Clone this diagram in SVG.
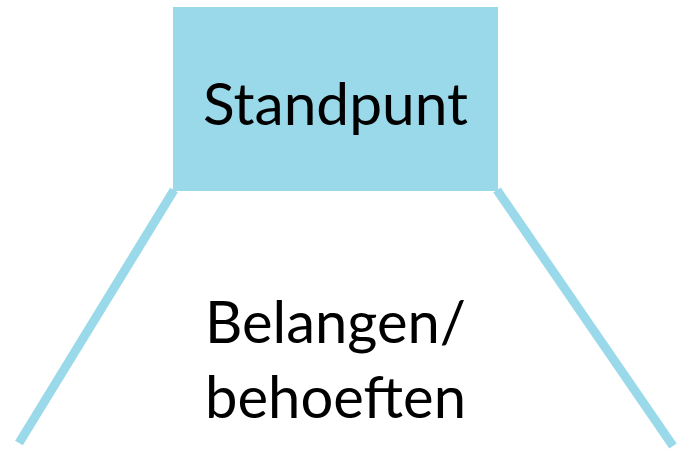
<svg xmlns="http://www.w3.org/2000/svg" width="678" height="453" viewBox="0 0 678 453">
<style>
.lbl{font-family:Lato,"Liberation Sans",Arial,sans-serif;font-size:58px;fill:#000}
.conn{stroke:#99D9EA;stroke-width:9;fill:none}
</style>
<rect width="678" height="453" fill="#fff"/>
<g id="connectors">
<line class="conn" x1="174" y1="190" x2="19" y2="443"/>
<line class="conn" x1="497" y1="190" x2="673" y2="446"/>
</g>
<g id="standpunt">
<rect x="173" y="7" width="325" height="184" fill="#99D9EA"/>
<text class="lbl" x="203" y="125" textLength="265" lengthAdjust="spacingAndGlyphs">Standpunt</text>
</g>
<g id="belangen">
<text class="lbl" x="205" y="343" textLength="261" lengthAdjust="spacingAndGlyphs">Belangen/</text>
<text class="lbl" x="205" y="418" textLength="261" lengthAdjust="spacingAndGlyphs">behoeften</text>
</g>
</svg>
